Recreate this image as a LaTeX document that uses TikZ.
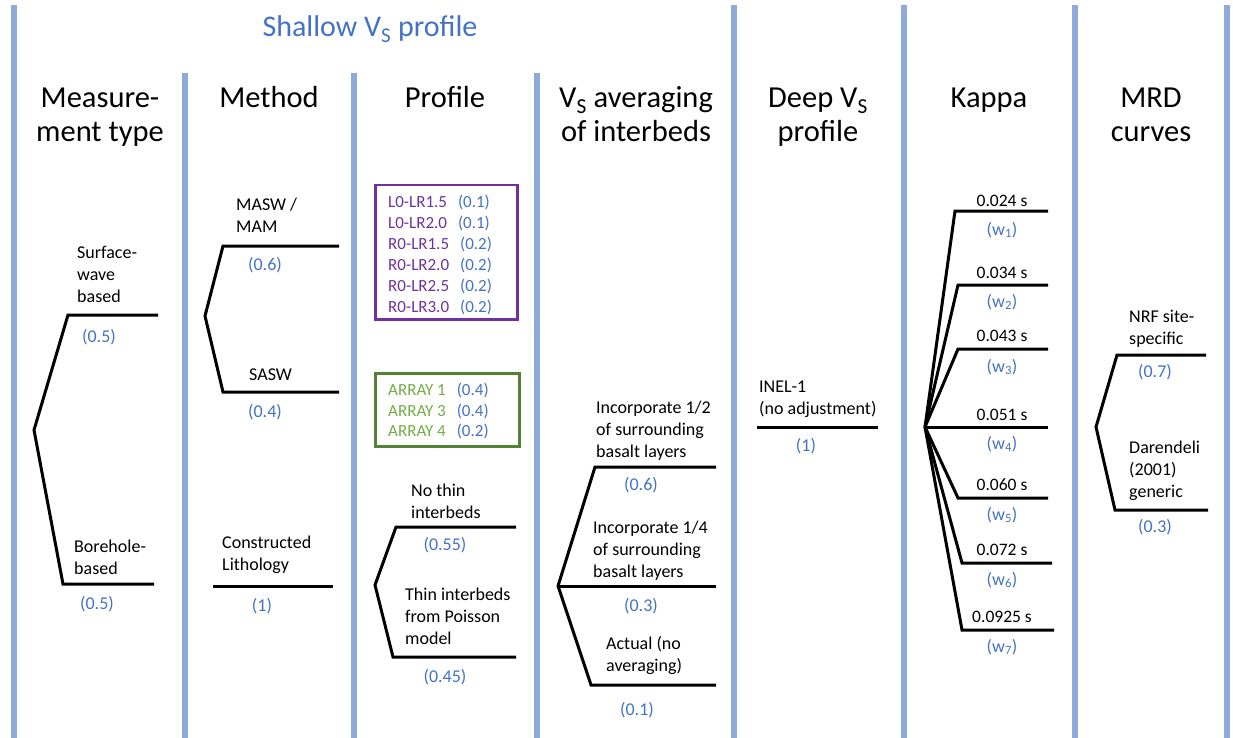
\documentclass[tikz,border=0pt]{standalone}
\usepackage{fontspec}
\setmainfont{Carlito}
\definecolor{barc}{HTML}{8EAADB}
\definecolor{wt}{HTML}{4472C4}
\definecolor{purp}{HTML}{7030A0}
\definecolor{grn}{HTML}{548235}
\definecolor{grntxt}{HTML}{70AD47}
\tikzset{
  colbar/.style={draw=barc, line width=6pt},
  branch/.style={draw=black, line width=3pt, line join=miter},
  lbl/.style={inner sep=0pt, anchor=base west, align=left, font=\fontsize{18}{22}\selectfont},
  wgt/.style={inner sep=0pt, text=wt, font=\fontsize{18}{22}\selectfont},
  klbl/.style={inner sep=0pt, font=\fontsize{17.5}{22}\selectfont},
  hdr/.style={inner sep=0pt, anchor=base, align=center, font=\fontsize{30.5}{34}\selectfont},
  boxtxt/.style={inner sep=0pt, anchor=base west, font=\fontsize{17}{21}\selectfont},
  optbox/.style={rectangle, line width=2.5pt, inner sep=0pt, anchor=north west},
}
\begin{document}
\begin{tikzpicture}[x=1pt,y=-1pt]
\useasboundingbox (0,0) rectangle (1233,738);
% column bars
\draw[colbar] (14,5) -- (14,738);
\draw[colbar] (185,73) -- (185,738);
\draw[colbar] (354,73) -- (354,738);
\draw[colbar] (537,73) -- (537,738);
\draw[colbar] (734,5) -- (734,738);
\draw[colbar] (904,5) -- (904,738);
\draw[colbar] (1075,5) -- (1075,738);
\draw[colbar] (1227,5) -- (1227,738);

% title and headers (base anchor = last line)
\node[hdr, text=wt, font=\fontsize{30}{34}\selectfont] (title) at (370,37) {Shallow V\textsubscript{S} profile};
\node[hdr] (h1) at (100,142) {Measure-\\ment type};
\node[hdr] (h2) at (269,108) {Method};
\node[hdr] (h3) at (445,108) {Profile};
\node[hdr] (h4) at (636,142) {V\textsubscript{S} averaging\\of interbeds};
\node[hdr] (h5) at (818,142) {Deep V\textsubscript{S}\\profile};
\node[hdr] (h6) at (989,108) {Kappa};
\node[hdr] (h7) at (1151,142) {MRD\\curves};

% ---- column 1: measurement type
\coordinate (f1) at (34,430);
\coordinate (f1ua) at (68,315); \coordinate (f1ub) at (158,315);
\coordinate (f1la) at (63,584); \coordinate (f1lb) at (154,584);
\draw[branch] (f1ub) -- (f1ua) -- (f1) -- (f1la) -- (f1lb);
\node[lbl] (sw) at (77,302.5) {Surface-\\wave\\based};
\node[wgt] (sww) at (99,337) {(0.5)};
\node[lbl] (bh) at (74,574.5) {Borehole-\\based};
\node[wgt] (bhw) at (97,604) {(0.5)};

% ---- column 2: method
\coordinate (f2) at (205,316);
\coordinate (f2ua) at (223,246); \coordinate (f2ub) at (339,246);
\coordinate (f2la) at (223,392); \coordinate (f2lb) at (339,392);
\draw[branch] (f2ub) -- (f2ua) -- (f2) -- (f2la) -- (f2lb);
\node[lbl] (masw) at (236,232.5) {MASW /\\MAM};
\node[wgt] (maswW) at (265,265) {(0.6)};
\node[lbl] (sasw) at (249,380.5) {SASW};
\node[wgt] (saswW) at (265,412) {(0.4)};
\node[lbl] (cl) at (222,570.5) {Constructed\\Lithology};
\coordinate (cla) at (213,586); \coordinate (clb) at (333,586);
\draw[branch] (cla) -- (clb);
\node[wgt] (clW) at (262,606) {(1)};

% ---- column 3: profile
\node[optbox, draw=purp, minimum width=142pt, minimum height=134pt] (pbox) at (374,184) {};
\node[boxtxt] (p1) at (388,207.5) {\textcolor{purp}{L0-LR1.5}\hspace{11pt}\textcolor{wt}{(0.1)}};
\node[boxtxt] (p2) at (388,228.5) {\textcolor{purp}{L0-LR2.0}\hspace{11pt}\textcolor{wt}{(0.1)}};
\node[boxtxt] (p3) at (388,249.5) {\textcolor{purp}{R0-LR1.5}\hspace{11pt}\textcolor{wt}{(0.2)}};
\node[boxtxt] (p4) at (388,270.5) {\textcolor{purp}{R0-LR2.0}\hspace{11pt}\textcolor{wt}{(0.2)}};
\node[boxtxt] (p5) at (388,291.5) {\textcolor{purp}{R0-LR2.5}\hspace{11pt}\textcolor{wt}{(0.2)}};
\node[boxtxt] (p6) at (388,312.5) {\textcolor{purp}{R0-LR3.0}\hspace{11pt}\textcolor{wt}{(0.2)}};
\node[optbox, draw=grn, minimum width=144pt, minimum height=73pt] (gbox) at (374,372) {};
\node[boxtxt] (g1) at (388,395.5) {\textcolor{grntxt}{ARRAY 1}\hspace{11pt}\textcolor{wt}{(0.4)}};
\node[boxtxt] (g2) at (388,416) {\textcolor{grntxt}{ARRAY 3}\hspace{11pt}\textcolor{wt}{(0.4)}};
\node[boxtxt] (g3) at (388,436.5) {\textcolor{grntxt}{ARRAY 4}\hspace{11pt}\textcolor{wt}{(0.2)}};

\coordinate (f3) at (375,585);
\coordinate (f3ua) at (396,527); \coordinate (f3ub) at (516,527);
\coordinate (f3la) at (393,657); \coordinate (f3lb) at (516,657);
\draw[branch] (f3ub) -- (f3ua) -- (f3) -- (f3la) -- (f3lb);
\node[lbl] (nt) at (411,518.5) {No thin\\interbeds};
\node[wgt] (ntW) at (445,545) {(0.55)};
\node[lbl] (ti) at (405,644.5) {Thin interbeds\\from Poisson\\model};
\node[wgt] (tiW) at (445,677) {(0.45)};

% ---- column 4: Vs averaging
\coordinate (f4) at (558,586);
\coordinate (f4ua) at (595,467); \coordinate (f4ub) at (716,467);
\coordinate (f4mb) at (716,586);
\coordinate (f4la) at (591,685); \coordinate (f4lb) at (716,685);
\draw[branch] (f4ub) -- (f4ua) -- (f4) -- (f4la) -- (f4lb);
\draw[branch] (f4) -- (f4mb);
\node[lbl] (ih) at (596,457.5) {Incorporate 1/2\\of surrounding\\basalt layers};
\node[wgt] (ihW) at (641,485) {(0.6)};
\node[lbl] (iq) at (593,577.5) {Incorporate 1/4\\of surrounding\\basalt layers};
\node[wgt] (iqW) at (641,606) {(0.3)};
\node[lbl] (act) at (606,671) {Actual (no\\averaging)};
\node[wgt] (actW) at (637,710) {(0.1)};

% ---- column 5: deep Vs
\node[lbl] (inel) at (759,414.5) {INEL-1\\(no adjustment)};
\coordinate (ia) at (757,427); \coordinate (ib) at (878,427);
\draw[branch] (ia) -- (ib);
\node[wgt] (inelW) at (806,446) {(1)};

% ---- column 6: kappa
\coordinate (fk) at (925,427);
\coordinate (k1a) at (955,211); \coordinate (k1b) at (1048,211);
\coordinate (k2a) at (958,285); \coordinate (k2b) at (1048,285);
\coordinate (k3a) at (958,349); \coordinate (k3b) at (1048,349);
\coordinate (k4b) at (1048,427);
\coordinate (k5a) at (958,498); \coordinate (k5b) at (1048,498);
\coordinate (k6a) at (962,563); \coordinate (k6b) at (1052,563);
\coordinate (k7a) at (962,630); \coordinate (k7b) at (1054,630);
\draw[branch] (fk) -- (k1a) -- (k1b);
\draw[branch] (fk) -- (k2a) -- (k2b);
\draw[branch] (fk) -- (k3a) -- (k3b);
\draw[branch] (fk) -- (k4b);
\draw[branch] (fk) -- (k5a) -- (k5b);
\draw[branch] (fk) -- (k6a) -- (k6b);
\draw[branch] (fk) -- (k7a) -- (k7b);
\node[klbl] (kv1) at (1002,201) {0.024 s};
\node[klbl] (kv2) at (1002,273) {0.034 s};
\node[klbl] (kv3) at (1002,336) {0.043 s};
\node[klbl] (kv4) at (1002,415) {0.051 s};
\node[klbl] (kv5) at (1002,485) {0.060 s};
\node[klbl] (kv6) at (1002,550) {0.072 s};
\node[klbl] (kv7) at (1002,617) {0.0925 s};
\node[wgt] (kw1) at (1002,230) {(w\textsubscript{1})};
\node[wgt] (kw2) at (1002,302) {(w\textsubscript{2})};
\node[wgt] (kw3) at (1002,367) {(w\textsubscript{3})};
\node[wgt] (kw4) at (1002,444) {(w\textsubscript{4})};
\node[wgt] (kw5) at (1002,515) {(w\textsubscript{5})};
\node[wgt] (kw6) at (1002,580) {(w\textsubscript{6})};
\node[wgt] (kw7) at (1002,647) {(w\textsubscript{7})};

% ---- column 7: MRD curves
\coordinate (f7) at (1096,427);
\coordinate (f7ua) at (1117,355); \coordinate (f7ub) at (1206,355);
\coordinate (f7la) at (1115,510); \coordinate (f7lb) at (1208,510);
\draw[branch] (f7ub) -- (f7ua) -- (f7) -- (f7la) -- (f7lb);
\node[lbl] (nrf) at (1129,344.5) {NRF site-\\specific};
\node[wgt] (nrfW) at (1155,372) {(0.7)};
\node[lbl] (dar) at (1129,497.5) {Darendeli\\(2001)\\generic};
\node[wgt] (darW) at (1155,527) {(0.3)};
\end{tikzpicture}
\end{document}
